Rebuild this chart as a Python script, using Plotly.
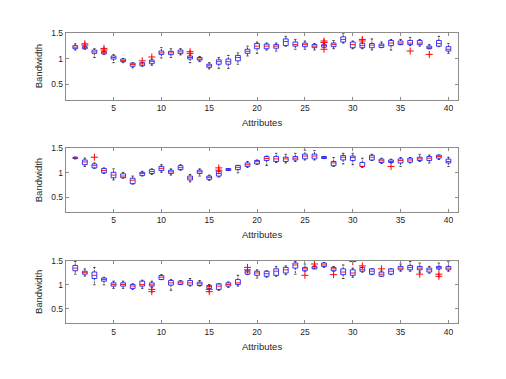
import plotly.graph_objects as go

attributes = list(range(1, 41))
x_ticks = [5, 10, 15, 20, 25, 30, 35, 40]
y_ticks = [0.5, 1, 1.5]
y_ticktext = ["0.5", "1", "1.5"]

# Panel 1: q1, median, q3, lower whisker, upper whisker, outliers
p1_q1 = [1.19, 1.19, 1.10, 1.09, 0.99, 0.94, 0.85, 0.86, 0.90, 1.08, 1.076, 1.095, 0.99, 0.97, 0.83, 0.89, 0.89, 0.955, 1.10, 1.19,
         1.19, 1.20, 1.25, 1.24, 1.23, 1.21, 1.22, 1.23, 1.32, 1.21, 1.21, 1.21, 1.215, 1.25, 1.27, 1.27, 1.27, 1.19, 1.24, 1.146]
p1_med = [1.22, 1.21, 1.13, 1.115, 1.02, 0.96, 0.885, 0.895, 0.94, 1.11, 1.11, 1.13, 1.02, 0.99, 0.86, 0.94, 0.94, 1.02, 1.14, 1.24,
          1.24, 1.24, 1.33, 1.27, 1.27, 1.24, 1.25, 1.27, 1.37, 1.27, 1.25, 1.26, 1.25, 1.30, 1.30, 1.30, 1.30, 1.21, 1.29, 1.18]
p1_q3 = [1.25, 1.23, 1.165, 1.14, 1.05, 0.99, 0.91, 0.92, 0.97, 1.146, 1.14, 1.165, 1.05, 1.02, 0.89, 0.975, 0.99, 1.06, 1.18, 1.29,
         1.28, 1.27, 1.38, 1.32, 1.30, 1.27, 1.27, 1.30, 1.42, 1.32, 1.30, 1.29, 1.28, 1.35, 1.34, 1.35, 1.35, 1.24, 1.35, 1.23]
p1_lo = [1.165, 1.18, 1.02, 1.08, 0.92, 0.92, 0.82, 0.85, 0.87, 1.01, 1.02, 1.07, 0.92, 0.94, 0.80, 0.81, 0.81, 0.89, 1.05, 1.10,
         1.165, 1.145, 1.24, 1.18, 1.18, 1.165, 1.21, 1.19, 1.30, 1.19, 1.19, 1.165, 1.21, 1.165, 1.27, 1.25, 1.24, 1.19, 1.23, 1.10]
p1_hi = [1.285, 1.24, 1.19, 1.15, 1.076, 1.0, 0.92, 0.92, 0.99, 1.21, 1.19, 1.19, 1.07, 1.04, 0.92, 1.02, 1.06, 1.11, 1.24, 1.32,
         1.30, 1.30, 1.43, 1.37, 1.34, 1.29, 1.29, 1.35, 1.48, 1.34, 1.30, 1.38, 1.32, 1.37, 1.37, 1.41, 1.37, 1.27, 1.43, 1.29]
p1_out = {2: [1.285, 1.26], 4: [1.196, 1.165], 8: [0.955], 9: [1.03], 13: [1.133, 1.10],
          27: [1.34, 1.31, 1.18], 31: [1.37, 1.34], 36: [1.146], 38: [1.08]}

# Panel 2
p2_q1 = [1.29, 1.165, 1.10, 1.0, 0.90, 0.90, 0.78, 0.947, 0.987, 1.046, 0.987, 1.066, 0.855, 0.987, 0.868, 0.934, 1.046, 1.066, 1.13, 1.18,
         1.25, 1.23, 1.23, 1.26, 1.283, 1.283, 1.29, 1.145, 1.26, 1.25, 1.13, 1.26, 1.21, 1.21, 1.20, 1.217, 1.25, 1.25, 1.296, 1.20]
p2_med = [1.30, 1.22, 1.145, 1.046, 0.954, 0.934, 0.85, 0.987, 1.026, 1.09, 1.02, 1.105, 0.895, 1.02, 0.908, 0.987, 1.066, 1.11, 1.165, 1.224,
          1.29, 1.283, 1.283, 1.296, 1.34, 1.34, 1.31, 1.20, 1.316, 1.31, 1.13, 1.316, 1.244, 1.23, 1.25, 1.26, 1.283, 1.296, 1.33, 1.23]
p2_q3 = [1.316, 1.26, 1.18, 1.086, 1.01, 0.98, 0.89, 1.01, 1.066, 1.13, 1.053, 1.145, 0.934, 1.053, 0.934, 1.033, 1.086, 1.15, 1.20, 1.25,
         1.33, 1.33, 1.316, 1.33, 1.38, 1.38, 1.33, 1.23, 1.35, 1.34, 1.21, 1.356, 1.277, 1.26, 1.283, 1.296, 1.316, 1.33, 1.36, 1.277]
p2_lo = [1.28, 1.13, 1.09, 0.987, 0.855, 0.89, 0.77, 0.934, 0.967, 1.01, 0.954, 1.053, 0.815, 0.934, 0.848, 0.914, 1.046, 1.0, 1.11, 1.17,
         1.15, 1.21, 1.20, 1.23, 1.26, 1.26, 1.29, 1.13, 1.18, 1.165, 1.11, 1.25, 1.19, 1.20, 1.13, 1.20, 1.23, 1.20, 1.27, 1.13]
p2_hi = [1.32, 1.30, 1.20, 1.10, 1.08, 1.01, 0.934, 1.03, 1.08, 1.165, 1.08, 1.165, 0.967, 1.08, 0.954, 1.033, 1.086, 1.15, 1.23, 1.26,
         1.34, 1.395, 1.375, 1.395, 1.46, 1.45, 1.33, 1.31, 1.395, 1.395, 1.296, 1.375, 1.296, 1.277, 1.31, 1.31, 1.375, 1.36, 1.36, 1.316]
p2_out = {3: [1.316], 16: [1.10, 1.053], 34: [1.13]}

# Panel 3
p3_q1 = [1.29, 1.22, 1.13, 1.075, 0.973, 0.973, 0.925, 0.973, 0.973, 1.108, 0.993, 1.007, 0.993, 0.986, 0.925, 0.905, 0.973, 1.007, 1.22, 1.196,
         1.176, 1.196, 1.244, 1.345, 1.29, 1.33, 1.38, 1.29, 1.21, 1.196, 1.28, 1.22, 1.176, 1.22, 1.31, 1.31, 1.31, 1.264, 1.33, 1.31]
p3_med = [1.345, 1.25, 1.196, 1.11, 1.007, 1.007, 0.973, 1.007, 1.0, 1.156, 1.04, 1.04, 1.04, 1.02, 0.966, 0.973, 1.007, 1.04, 1.264, 1.244,
          1.23, 1.28, 1.31, 1.41, 1.33, 1.366, 1.41, 1.33, 1.264, 1.244, 1.31, 1.28, 1.22, 1.28, 1.345, 1.36, 1.345, 1.31, 1.36, 1.345]
p3_q3 = [1.40, 1.28, 1.264, 1.14, 1.04, 1.04, 1.007, 1.075, 1.04, 1.19, 1.088, 1.075, 1.088, 1.054, 0.986, 1.02, 1.04, 1.108, 1.29, 1.28,
         1.28, 1.33, 1.36, 1.45, 1.36, 1.38, 1.45, 1.36, 1.33, 1.31, 1.36, 1.33, 1.264, 1.33, 1.38, 1.40, 1.38, 1.345, 1.38, 1.38]
p3_lo = [1.22, 1.18, 1.0, 1.0, 0.925, 0.925, 0.905, 0.925, 0.946, 1.108, 0.885, 1.007, 0.973, 0.973, 0.925, 0.885, 0.946, 0.973, 1.21, 1.14,
         1.156, 1.176, 1.21, 1.22, 1.28, 1.33, 1.36, 1.28, 1.13, 1.156, 1.26, 1.21, 1.176, 1.21, 1.28, 1.28, 1.26, 1.24, 1.31, 1.28]
p3_hi = [1.48, 1.33, 1.36, 1.155, 1.075, 1.075, 1.02, 1.095, 1.075, 1.21, 1.108, 1.088, 1.13, 1.088, 1.007, 1.02, 1.06, 1.196, 1.29, 1.31,
         1.29, 1.38, 1.39, 1.48, 1.43, 1.40, 1.46, 1.38, 1.41, 1.345, 1.36, 1.33, 1.29, 1.33, 1.43, 1.48, 1.45, 1.38, 1.45, 1.48]
p3_out = {9: [0.905, 0.858], 15: [0.905, 0.858], 19: [1.36, 1.31], 25: [1.196], 26: [1.43], 28: [1.21],
          30: [1.48], 31: [1.39], 33: [1.33], 37: [1.22], 39: [1.22, 1.176]}

panels = [
    (p1_q1, p1_med, p1_q3, p1_lo, p1_hi, p1_out),
    (p2_q1, p2_med, p2_q3, p2_lo, p2_hi, p2_out),
    (p3_q1, p3_med, p3_q3, p3_lo, p3_hi, p3_out),
]

# the page body adds an 8px margin, so the figure is 8px smaller and shifted
OFF = 8
W = 506 - OFF
H = 379 - OFF
box_hw = 0.25
cap_hw = 0.125
dom_x = [(65.7 - OFF) / W, (458 - OFF) / W]
pan_px = [(28, 96), (145, 210), (259, 322.7)]
dom_y = [(1 - (b - OFF) / H, 1 - (t - OFF) / H) for t, b in pan_px]

fig = go.Figure()
for k, (q1, med, q3, lo, hi, outs) in enumerate(panels):
    xa = "x" if k == 0 else f"x{k+1}"
    ya = "y" if k == 0 else f"y{k+1}"
    bx, by, wx, wy, cx, cy, mx, my, ox, oy = [], [], [], [], [], [], [], [], [], []
    for i, a in enumerate(attributes):
        bx += [a - box_hw, a + box_hw, a + box_hw, a - box_hw, a - box_hw, None]
        by += [q1[i], q1[i], q3[i], q3[i], q1[i], None]
        wx += [a, a, None, a, a, None]
        wy += [q3[i], max(hi[i], q3[i]), None, q1[i], min(lo[i], q1[i]), None]
        cx += [a - cap_hw, a + cap_hw, None, a - cap_hw, a + cap_hw, None]
        cy += [max(hi[i], q3[i])] * 2 + [None] + [min(lo[i], q1[i])] * 2 + [None]
        mx += [a - box_hw, a + box_hw, None]
        my += [med[i], med[i], None]
        for v in outs.get(a, []):
            ox.append(a)
            oy.append(v)
    common = dict(xaxis=xa, yaxis=ya, showlegend=False, hoverinfo="skip")
    fig.add_trace(go.Scatter(x=wx, y=wy, mode="lines", line=dict(color="black", width=0.7, dash="2px,1px"), **common))
    fig.add_trace(go.Scatter(x=cx, y=cy, mode="lines", line=dict(color="black", width=0.7), **common))
    fig.add_trace(go.Scatter(x=bx, y=by, mode="lines", line=dict(color="#2020ff", width=0.9), **common))
    fig.add_trace(go.Scatter(x=mx, y=my, mode="lines", line=dict(color="#ff0000", width=0.9), **common))
    fig.add_trace(go.Scatter(x=ox, y=oy, mode="markers",
                             marker=dict(symbol="cross-thin", size=5, line=dict(color="#ff0000", width=1)), **common))

axis_common = dict(showline=True, linecolor="#8c8c8c", linewidth=1, mirror="ticks", ticks="inside",
                   ticklen=3, tickcolor="#8c8c8c", showgrid=False, zeroline=False,
                   tickfont=dict(family="Liberation Sans, Arial", size=8.5, color="#262626"))

layout = dict(width=W, height=H, paper_bgcolor="white", plot_bgcolor="white",
              margin=dict(l=0, r=0, t=0, b=0), font=dict(family="Liberation Sans, Arial", color="#262626"))
annotations = []
for k in range(3):
    sx = "xaxis" if k == 0 else f"xaxis{k+1}"
    sy = "yaxis" if k == 0 else f"yaxis{k+1}"
    anchor_y = "y" if k == 0 else f"y{k+1}"
    anchor_x = "x" if k == 0 else f"x{k+1}"
    layout[sx] = dict(axis_common, domain=dom_x, range=[0, 41], tickvals=x_ticks, anchor=anchor_y)
    layout[sy] = dict(axis_common, domain=list(dom_y[k]), range=[0.2, 1.5], tickvals=y_ticks,
                      ticktext=y_ticktext, anchor=anchor_x)
    annotations.append(dict(text="Attributes", xref="paper", yref="paper", x=sum(dom_x) / 2,
                            y=dom_y[k][0] - 23 / H, xanchor="center", yanchor="middle", showarrow=False,
                            font=dict(family="Liberation Sans, Arial", size=9.5, color="#262626")))
    annotations.append(dict(text="Bandwidth", xref="paper", yref="paper", x=(38 - OFF) / W,
                            y=sum(dom_y[k]) / 2, xanchor="center", yanchor="middle", textangle=-90,
                            showarrow=False, font=dict(family="Liberation Sans, Arial", size=9.5, color="#262626")))
layout["annotations"] = annotations
fig.update_layout(**layout)
fig.write_html("out.html")
